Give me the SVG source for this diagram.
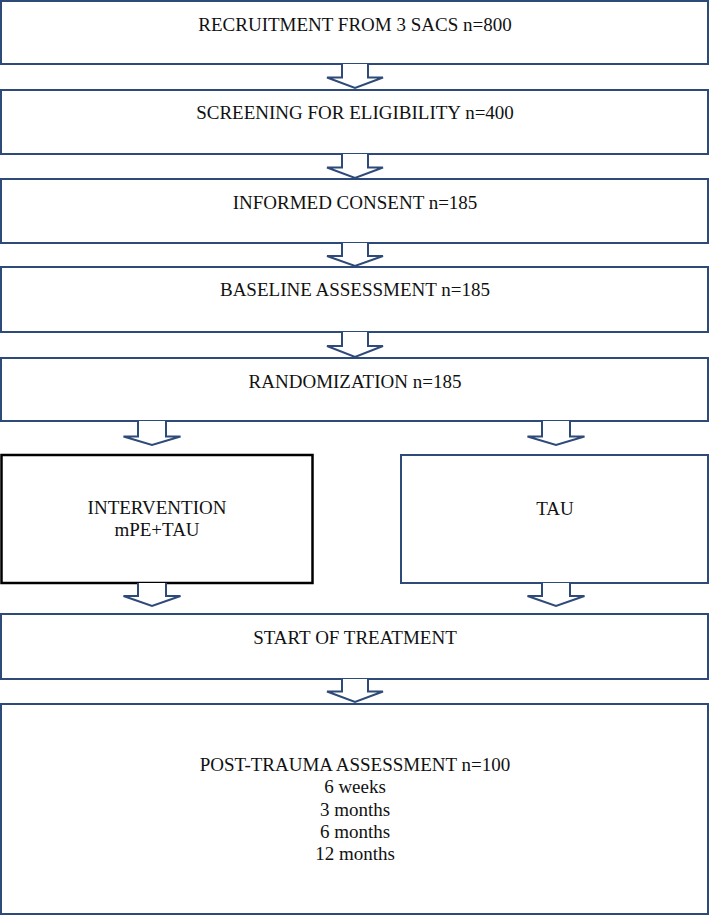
<svg xmlns="http://www.w3.org/2000/svg" width="710" height="916" viewBox="0 0 710 916">
<style>
.box{fill:#fff;stroke:#2e4a78;stroke-width:2}
.blk{fill:#fff;stroke:#000;stroke-width:2.5}
.arr{fill:#fff;stroke:#2e4a78;stroke-width:2;stroke-linejoin:miter}
text{font-family:"Liberation Serif","Times New Roman",serif;font-size:19px;fill:#111;text-anchor:middle}
</style>
<rect width="710" height="916" fill="#fff"/>
<g id="n1"><rect class="box" x="1" y="1" width="707" height="63"/><text x="355" y="31">RECRUITMENT FROM 3 SACS n=800</text></g>
<g id="n2"><rect class="box" x="1" y="90" width="707" height="64"/><text x="355" y="119">SCREENING FOR ELIGIBILITY n=400</text></g>
<g id="n3"><rect class="box" x="1" y="179" width="707" height="64"/><text x="355" y="209">INFORMED CONSENT n=185</text></g>
<g id="n4"><rect class="box" x="1" y="267" width="707" height="65"/><text x="355" y="296">BASELINE ASSESSMENT n=185</text></g>
<g id="n5"><rect class="box" x="1" y="358" width="707" height="63"/><text x="355" y="388">RANDOMIZATION n=185</text></g>
<g id="n6"><rect class="blk" x="1.5" y="455" width="311" height="128"/><text x="157" y="514">INTERVENTION</text><text x="157" y="536">mPE+TAU</text></g>
<g id="n7"><rect class="box" x="401" y="455" width="307" height="128"/><text x="555" y="515">TAU</text></g>
<g id="n8"><rect class="box" x="1" y="614" width="707" height="65"/><text x="355" y="644">START OF TREATMENT</text></g>
<g id="n9"><rect class="box" x="1" y="704" width="707" height="210"/>
<text x="355" y="771">POST-TRAUMA ASSESSMENT n=100</text>
<text x="355" y="793">6 weeks</text>
<text x="355" y="815.5">3 months</text>
<text x="355" y="837.5">6 months</text>
<text x="355" y="860">12 months</text></g>
<g id="connectors">
<path class="arr" d="M342,64 V77.5 H327 L355,88 L383,77.5 H368 V64"/>
<path class="arr" d="M342,154 V167.5 H327 L355,178 L383,167.5 H368 V154"/>
<path class="arr" d="M342,243 V256 H327 L355,266 L383,256 H368 V243"/>
<path class="arr" d="M342,332 V346 H327 L355,357 L383,346 H368 V332"/>
<path class="arr" d="M138,421 V436.5 H123.5 L152,445 L180.5,436.5 H166 V421"/>
<path class="arr" d="M542,421 V436.5 H527.5 L556,445 L584.5,436.5 H570 V421"/>
<path class="arr" d="M138,583 V596 H123.5 L152,606 L180.5,596 H166 V583"/>
<path class="arr" d="M542,583 V596 H527.5 L556,606 L584.5,596 H570 V583"/>
<path class="arr" d="M342,679 V691.5 H327 L355,702 L383,691.5 H368 V679"/>
</g>
</svg>
